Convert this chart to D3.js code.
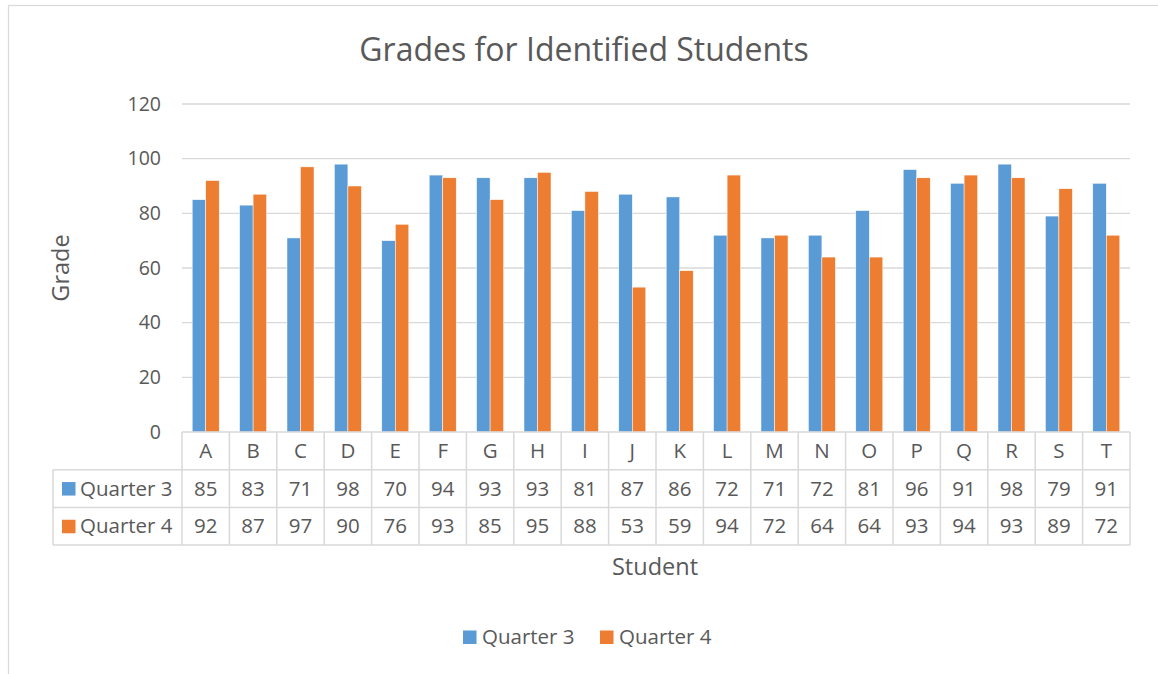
<!DOCTYPE html>
<html>
<head>
<meta charset="utf-8">
<script src="https://cdn.jsdelivr.net/npm/d3@7"></script>
<style>
  body { margin: 0; background: #fff; }
  text { font-family: "Open Sans", "Noto Sans", sans-serif; fill: #595959; }
</style>
</head>
<body>
<div id="main"></div>
<script>
var students = ["A","B","C","D","E","F","G","H","I","J","K","L","M","N","O","P","Q","R","S","T"];
var quarter3 = [85,83,71,98,70,94,93,93,81,87,86,72,71,72,81,96,91,98,79,91];
var quarter4 = [92,87,97,90,76,93,85,95,88,53,59,94,72,64,64,93,94,93,89,72];
var seriesNames = ["Quarter 3", "Quarter 4"];
var seriesColors = ["#5B9BD5", "#ED7D31"];
var yTicks = [0, 20, 40, 60, 80, 100, 120];

var ctx = {
    w: 1158,
    h: 674,
    left: 182,
    right: 1130,
    top: 104,
    bottom: 432,
    rowH: 37.7,
    labelLeft: 53,
    font: "20.5px"
};

var svg = d3.select("#main").append("svg")
    .attr("width", ctx.w)
    .attr("height", ctx.h);

// chart frame
svg.append("rect")
    .attr("x", 8.5).attr("y", 5.5)
    .attr("width", 1200).attr("height", 700)
    .attr("fill", "none")
    .attr("stroke", "#D9D9D9")
    .attr("stroke-width", 1.2);

// title
svg.append("text")
    .attr("x", 584).attr("y", 61)
    .attr("text-anchor", "middle")
    .style("font-size", "32px")
    .text("Grades for Identified Students");

var x = d3.scaleBand().domain(students).range([ctx.left, ctx.right]).paddingInner(0).paddingOuter(0);
var xs = d3.scaleBand().domain(seriesNames).range([0, x.bandwidth()]).paddingInner(0).paddingOuter(0.755);
var y = d3.scaleLinear().domain([0, 120]).range([ctx.bottom, ctx.top]);

// gridlines
svg.append("g").selectAll("line")
    .data(yTicks.filter(function(d) { return d > 0; }))
    .enter().append("line")
    .attr("x1", ctx.left).attr("x2", ctx.right)
    .attr("y1", function(d) { return y(d); })
    .attr("y2", function(d) { return y(d); })
    .attr("stroke", "#D9D9D9")
    .attr("stroke-width", 1.3);

// y axis labels
var yAxis = svg.append("g")
    .attr("transform", "translate(161,0)")
    .call(d3.axisLeft(y).tickValues(yTicks).tickSize(0).tickPadding(0));
yAxis.select(".domain").remove();
yAxis.selectAll("text")
    .style("font-size", "19.5px")
    .style("font-family", "'Open Sans', sans-serif")
    .attr("fill", "#595959");

// bars
var data = [quarter3, quarter4];
var groups = svg.append("g").selectAll("g")
    .data(students)
    .enter().append("g")
    .attr("transform", function(d) { return "translate(" + x(d) + ",0)"; });

groups.selectAll("rect")
    .data(function(d, i) { return seriesNames.map(function(s, j) { return {s: s, v: data[j][i], c: seriesColors[j]}; }); })
    .enter().append("rect")
    .attr("x", function(d) { return xs(d.s); })
    .attr("width", xs.bandwidth())
    .attr("y", function(d) { return y(d.v); })
    .attr("height", function(d) { return y(0) - y(d.v); })
    .attr("fill", function(d) { return d.c; })
    .attr("stroke", "#fff")
    .attr("stroke-width", 0.5);

// data table
var table = svg.append("g");
var rowTops = [ctx.bottom, ctx.bottom + ctx.rowH, ctx.bottom + 2 * ctx.rowH, ctx.bottom + 3 * ctx.rowH];
var lineStyle = function(sel) { return sel.attr("stroke", "#D9D9D9").attr("stroke-width", 1.5); };

table.append("line").attr("x1", ctx.left).attr("x2", ctx.right)
    .attr("y1", rowTops[0]).attr("y2", rowTops[0]).call(lineStyle);
[1, 2, 3].forEach(function(r) {
    table.append("line").attr("x1", ctx.labelLeft).attr("x2", ctx.right)
        .attr("y1", rowTops[r]).attr("y2", rowTops[r]).call(lineStyle);
});
var bounds = students.map(function(d) { return x(d); }).concat([ctx.right]);
table.selectAll("line.v")
    .data(bounds)
    .enter().append("line")
    .attr("class", "v")
    .attr("x1", function(d) { return d; }).attr("x2", function(d) { return d; })
    .attr("y1", rowTops[0]).attr("y2", rowTops[3])
    .call(lineStyle);
table.append("line").attr("x1", ctx.labelLeft).attr("x2", ctx.labelLeft)
    .attr("y1", rowTops[1]).attr("y2", rowTops[3]).call(lineStyle);

// category labels
table.selectAll("text.cat")
    .data(students)
    .enter().append("text")
    .attr("class", "cat")
    .attr("x", function(d) { return x(d) + x.bandwidth() / 2; })
    .attr("y", rowTops[0] + ctx.rowH / 2)
    .attr("dy", "0.35em")
    .attr("text-anchor", "middle")
    .style("font-size", ctx.font)
    .text(function(d) { return d; });

// value rows
data.forEach(function(vals, j) {
    var top = rowTops[j + 1];
    table.append("rect")
        .attr("x", 62).attr("y", top + ctx.rowH / 2 - 6.5)
        .attr("width", 13.5).attr("height", 13.5)
        .attr("fill", seriesColors[j]);
    table.append("text")
        .attr("x", 80).attr("y", top + ctx.rowH / 2)
        .attr("dy", "0.35em")
        .style("font-size", ctx.font)
        .text(seriesNames[j]);
    table.selectAll("text.v" + j)
        .data(vals)
        .enter().append("text")
        .attr("class", "v" + j)
        .attr("x", function(d, i) { return x(students[i]) + x.bandwidth() / 2; })
        .attr("y", top + ctx.rowH / 2)
        .attr("dy", "0.35em")
        .attr("text-anchor", "middle")
        .style("font-size", ctx.font)
        .text(function(d) { return d; });
});

// axis titles
svg.append("text")
    .attr("transform", "translate(69,268) rotate(-90)")
    .attr("text-anchor", "middle")
    .style("font-size", "23.5px")
    .text("Grade");
svg.append("text")
    .attr("x", 655).attr("y", 575)
    .attr("text-anchor", "middle")
    .style("font-size", "23.5px")
    .text("Student");

// legend
var legendX = [463, 600];
var legend = svg.append("g").selectAll("g")
    .data(seriesNames)
    .enter().append("g")
    .attr("transform", function(d, i) { return "translate(" + legendX[i] + ",637)"; });
legend.append("rect")
    .attr("x", 0).attr("y", -6.5)
    .attr("width", 13.5).attr("height", 13.5)
    .attr("fill", function(d, i) { return seriesColors[i]; });
legend.append("text")
    .attr("x", 19).attr("dy", "0.35em")
    .style("font-size", ctx.font)
    .text(function(d) { return d; });
</script>
</body>
</html>
